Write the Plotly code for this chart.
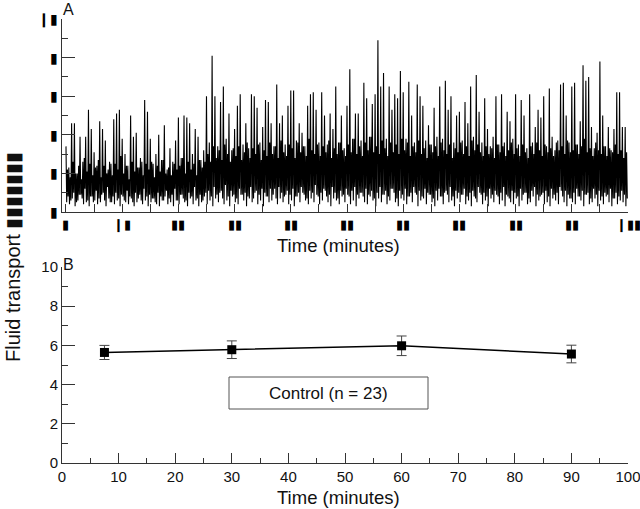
import numpy as np
import plotly.graph_objects as go

# ---------------- Panel A: continuous fluid transport recording ----------------
# each 0.5-min slot holds four read samples: spike top, trough, band top, trough
samples_per_slot = 4
slot_minutes = 0.5

trace_highs = [
    3.4, 2.3, 4.6, 4.6, 2.0, 3.9, 2.6, 3.9, 5.3, 4.3,
    3.1, 2.4, 4.7, 4.3, 3.7, 2.2, 2.5, 4.8, 5.1, 5.3,
    3.8, 3.0, 2.4, 5.0, 3.9, 4.1, 2.3, 2.6, 5.8, 5.2,
    3.8, 2.5, 3.0, 4.0, 2.7, 4.5, 2.2, 3.3, 2.6, 3.7,
    4.9, 2.8, 5.0, 4.9, 4.6, 3.0, 4.3, 3.9, 2.7, 3.2,
    6.0, 3.6, 8.1, 6.0, 3.4, 5.7, 6.5, 3.8, 5.1, 3.2,
    4.3, 5.5, 6.1, 3.5, 4.6, 3.3, 6.1, 6.0, 5.4, 3.6,
    4.4, 5.8, 5.7, 4.6, 3.4, 6.6, 4.6, 5.0, 3.5, 5.5,
    6.3, 6.3, 3.7, 4.6, 4.1, 3.4, 5.5, 6.1, 6.2, 5.3,
    3.6, 6.2, 5.0, 3.5, 5.1, 4.3, 6.5, 3.6, 5.0, 3.3,
    5.5, 7.4, 3.8, 5.1, 5.1, 3.7, 6.7, 5.9, 3.9, 5.6,
    6.1, 8.9, 6.5, 7.2, 3.8, 6.5, 5.3, 6.1, 5.9, 7.3,
    6.2, 3.8, 6.75, 5.0, 3.6, 6.6, 6.0, 5.5, 3.7, 4.5,
    3.5, 5.4, 3.9, 6.5, 3.8, 6.8, 5.3, 6.0, 3.6, 5.0,
    5.2, 3.7, 5.7, 4.6, 6.5, 3.9, 7.1, 5.2, 3.6, 5.9,
    4.3, 3.4, 3.9, 6.0, 3.5, 6.1, 3.6, 5.2, 4.7, 3.8,
    6.1, 3.5, 5.8, 5.0, 3.3, 6.1, 3.6, 4.4, 5.3, 4.9,
    6.0, 3.4, 6.4, 3.9, 3.2, 3.7, 6.6, 6.7, 5.0, 3.6,
    6.5, 6.7, 3.5, 4.7, 7.6, 6.8, 7.0, 4.4, 3.3, 4.1,
    7.8, 5.0, 3.4, 4.4, 3.2, 4.3, 6.2, 6.2, 4.4, 4.4,
]

trace_lows = [
    0.5, 0.4, 0.7, 0.3, 0.6, 0.9, 0.4, 0.5, 0.3, 0.8,
    0.6, 0.4, 0.5, 1.0, 0.3, 0.7, 0.5, 0.4, 0.6, 0.3,
    0.8, 0.5, 0.4, 0.7, 0.3, 0.5, 0.9, 0.4, 0.6, 0.3,
    0.5, 0.7, 0.4, 0.3, 0.6, 0.8, 0.4, 0.5, 0.3, 0.6,
    0.4, 0.9, 0.5, 0.3, 0.7, 0.4, 0.6, 0.3, 0.5, 0.8,
    0.4, 0.6, 0.3, 0.7, 0.5, 1.1, 0.4, 0.6, 0.3, 0.8,
    0.5, 0.4, 0.9, 0.6, 0.3, 0.7, 0.5, 1.0, 0.4, 0.6,
    0.3, 0.8, 0.5, 0.6, 1.2, 0.4, 0.7, 0.5, 0.9, 0.4,
    0.6, 0.3, 0.8, 0.5, 1.0, 0.6, 0.4, 0.7, 0.5, 0.9,
    0.4, 0.6, 1.1, 0.5, 0.3, 0.7, 0.6, 0.4, 0.8, 0.5,
    0.9, 0.4, 0.6, 0.3, 0.7, 1.0, 0.5, 0.4, 0.8, 0.6,
    0.3, 0.7, 0.5, 0.9, 0.4, 0.6, 1.2, 0.5, 0.3, 0.7,
    0.6, 0.4, 0.8, 0.5, 1.0, 0.3, 0.6, 0.7, 0.4, 0.9,
    0.5, 0.3, 0.6, 0.8, 0.4, 1.1, 0.5, 0.6, 0.3, 0.7,
    0.5, 0.9, 0.4, 0.6, 0.3, 0.8, 0.5, 1.0, 0.4, 0.6,
    0.3, 0.7, 0.5, 0.9, 0.4, 0.6, 0.3, 0.8, 0.5, 0.4,
    0.7, 0.3, 0.6, 1.0, 0.4, 0.5, 0.8, 0.3, 0.6, 0.9,
    0.4, 0.5, 0.3, 0.7, 0.6, 0.4, 1.1, 0.5, 0.3, 0.7,
    0.5, 0.4, 0.8, 0.6, 0.3, 0.9, 0.4, 0.5, 0.7, 0.3,
    0.6, 0.4, 0.8, 0.5, 0.3, 0.7, 0.4, 0.6, 0.5, 0.3,
]

trace_band = [
    2.2, 1.8, 2.6, 2.0, 2.4, 1.7, 2.8, 2.1, 2.5, 1.9,
    2.3, 2.7, 1.8, 2.4, 2.0, 2.6, 1.9, 2.5, 2.2, 2.9,
    2.0, 2.4, 1.7, 2.6, 2.1, 2.3, 2.8, 1.9, 2.5, 2.2,
    2.6, 1.8, 2.4, 2.1, 2.7, 2.0, 2.3, 1.9, 2.5, 2.2,
    2.4, 2.8, 2.0, 2.6, 2.2, 2.5, 1.9, 2.7, 2.3, 2.6,
    3.0, 2.6, 3.4, 2.8, 3.2, 2.7, 3.5, 3.0, 2.6, 3.3,
    2.9, 3.4, 2.7, 3.1, 3.6, 2.8, 3.3, 3.0, 3.5, 2.7,
    3.2, 2.9, 3.6, 3.0, 3.4, 2.8, 3.7, 3.1, 2.9, 3.5,
    3.3, 2.8, 3.6, 3.1, 3.4, 2.9, 3.8, 3.2, 3.0, 3.5,
    2.9, 3.4, 3.1, 3.7, 2.8, 3.3, 3.0, 3.6, 3.2, 2.9,
    3.5, 3.1, 3.8, 3.0, 3.4, 2.9, 3.6, 3.2, 3.9, 3.1,
    3.4, 3.0, 3.7, 3.3, 2.9, 3.6, 3.1, 3.5, 3.0, 3.8,
    3.2, 3.6, 2.9, 3.4, 3.1, 3.7, 3.0, 3.3, 2.8, 3.5,
    3.1, 3.4, 2.9, 3.6, 3.2, 3.0, 3.5, 2.8, 3.3, 3.1,
    3.6, 3.0, 3.4, 2.9, 3.7, 3.2, 3.5, 3.1, 2.9, 3.4,
    3.0, 3.3, 2.8, 3.5, 3.1, 3.4, 2.9, 3.2, 3.6, 3.0,
    3.3, 2.9, 3.5, 3.1, 2.8, 3.4, 3.0, 3.6, 3.2, 2.9,
    3.5, 3.1, 3.3, 2.9, 3.6, 3.2, 3.4, 3.0, 3.7, 3.1,
    3.2, 3.5, 3.0, 3.4, 3.8, 3.1, 3.3, 2.9, 3.6, 3.2,
    3.0, 3.4, 2.9, 3.3, 3.1, 3.5, 3.0, 3.2, 2.8, 3.1,
]

trace_lows_b = [
    0.8, 0.6, 1.0, 0.5, 0.9, 0.7, 1.2, 0.6, 0.8, 0.5,
    1.1, 0.7, 0.9, 0.6, 1.3, 0.5, 0.8, 1.0, 0.7, 0.9,
    0.6, 1.1, 0.8, 0.5, 1.0, 0.7, 0.6, 1.2, 0.8, 0.9,
    0.7, 0.5, 1.0, 0.8, 0.6, 1.1, 0.7, 0.9, 1.2, 0.6,
    0.9, 0.7, 0.6, 1.0, 0.8, 1.3, 0.7, 0.9, 0.6, 1.0,
    1.1, 0.8, 1.3, 0.9, 1.0, 0.7, 1.4, 0.8, 1.1, 0.9,
    0.7, 1.2, 0.9, 1.0, 0.8, 1.3, 0.7, 1.1, 0.9, 1.2,
    1.0, 0.8, 1.2, 0.9, 0.7, 1.3, 1.0, 0.8, 1.1, 0.9,
    1.2, 0.8, 1.0, 1.3, 0.9, 0.7, 1.1, 1.0, 1.4, 0.8,
    1.0, 1.2, 0.8, 0.9, 1.3, 1.0, 0.7, 1.1, 0.9, 1.2,
    0.8, 1.1, 1.3, 0.9, 1.0, 0.8, 1.2, 0.9, 1.1, 0.7,
    1.0, 1.3, 0.9, 1.1, 0.8, 1.2, 1.0, 0.7, 1.1, 0.9,
    1.2, 0.8, 1.0, 1.3, 0.9, 1.1, 0.8, 1.2, 1.0, 0.9,
    0.7, 1.1, 1.2, 0.8, 1.0, 0.9, 1.3, 0.8, 1.1, 1.0,
    0.9, 1.2, 0.8, 1.0, 1.1, 0.7, 1.3, 0.9, 1.0, 0.8,
    1.2, 0.9, 1.1, 0.8, 1.0, 1.3, 0.9, 0.7, 1.1, 1.0,
    0.8, 1.2, 0.9, 1.0, 0.7, 1.1, 1.3, 0.9, 0.8, 1.0,
    1.1, 0.8, 1.2, 0.9, 1.0, 1.3, 0.8, 1.1, 0.9, 0.7,
    1.0, 1.2, 0.8, 1.1, 0.9, 1.0, 0.7, 1.2, 0.9, 1.1,
    0.8, 1.0, 0.9, 1.2, 0.7, 1.0, 0.8, 1.1, 0.9, 0.7,
]

# ---------------- Panel B: mean values ----------------
time_points = [7.5, 30, 60, 90]
transport_mean = [5.64, 5.78, 5.98, 5.56]
transport_sem = [0.36, 0.45, 0.50, 0.45]
legend_label = "Control (n = 23)"

# ---------------- Tick labels ----------------
y_tick_vals = [0, 2, 4, 6, 8, 10]
y_tick_text_b = ["0", "2", "4", "6", "8", "10"]
y_tick_text_a = ["▮", "▮", "▮", "▮", "▮", "❙▮"]
x_tick_vals = [0, 10, 20, 30, 40, 50, 60, 70, 80, 90, 100]
x_tick_text_b = ["0", "10", "20", "30", "40", "50", "60", "70", "80", "90", "100"]
x_tick_text_a = ["▮", "❙▮", "▮▮", "▮▮", "▮▮", "▮▮", "▮▮", "▮▮", "▮▮", "▮▮", "❙▮▮"]
y_title = "Fluid transport ▮▮▮▮▮▮▮"

# interleave the recording samples
y_trace = np.column_stack([trace_highs, trace_lows, trace_band, trace_lows_b]).ravel()
t_trace = np.arange(len(y_trace)) * (slot_minutes / samples_per_slot)

W, H = 640, 509
def px(x):
    return x / W
def py(y):
    return 1 - y / H

FONT = "Liberation Sans, Arial, Helvetica, sans-serif"
AX = "#333333"

fig = go.Figure()
fig.add_trace(go.Scatter(
    x=t_trace, y=y_trace, mode="lines",
    line=dict(color="black", width=1.1, simplify=False),
    xaxis="x", yaxis="y", showlegend=False, hoverinfo="skip",
))
fig.add_trace(go.Scatter(
    x=time_points, y=transport_mean, mode="lines+markers",
    line=dict(color="black", width=1.5),
    marker=dict(symbol="square", size=9, color="black"),
    error_y=dict(type="data", array=transport_sem, color="#444444", thickness=1, width=5),
    xaxis="x2", yaxis="y2", showlegend=False,
))

common = dict(showline=True, linecolor=AX, linewidth=1, showgrid=False, zeroline=False,
              ticks="inside", tickcolor=AX, mirror=False, automargin=False,
              ticklabeloverflow="allow")

fig.update_layout(
    template="none",
    width=W, height=H, autosize=False,
    margin=dict(l=0, r=0, t=0, b=0, pad=0),
    paper_bgcolor="white", plot_bgcolor="white",
    font=dict(family=FONT, color="#111111", size=15),
    xaxis=dict(domain=[px(62), px(628)], anchor="y", range=[-0.71, 100],
               tickvals=x_tick_vals, ticktext=x_tick_text_a, ticklen=8, tickwidth=1,
               minor=dict(dtick=5, tick0=0, ticks="inside", ticklen=8, tickcolor=AX),
               tickfont=dict(size=13, color="black"), **common),
    yaxis=dict(domain=[py(212), py(19)], anchor="x", range=[0, 10],
               tickvals=y_tick_vals, ticktext=y_tick_text_a, ticklen=13,
               minor=dict(dtick=1, tick0=0, ticks="inside", ticklen=6, tickcolor=AX),
               tickfont=dict(size=14, color="black"), **common),
    xaxis2=dict(domain=[px(62), px(628)], anchor="y2", range=[0, 100],
                tickvals=x_tick_vals, ticktext=x_tick_text_b, ticklen=10,
                minor=dict(dtick=5, tick0=0, ticks="inside", ticklen=5, tickcolor=AX),
                tickfont=dict(size=15), **common),
    yaxis2=dict(domain=[py(463), py(267)], anchor="x2", range=[0, 10],
                tickvals=y_tick_vals, ticktext=y_tick_text_b, ticklen=13,
                minor=dict(dtick=1, tick0=0, ticks="inside", ticklen=6, tickcolor=AX),
                tickfont=dict(size=15), **common),
)

fig.add_shape(type="rect", xref="paper", yref="paper",
              x0=px(229), x1=px(428), y0=py(409), y1=py(377),
              line=dict(color="#555555", width=1), fillcolor="rgba(0,0,0,0)")

annos = [
    dict(text=legend_label, x=px(328.5), y=py(393), xanchor="center", yanchor="middle",
         font=dict(size=17)),
    dict(text="Time (minutes)", x=px(338), y=py(245), xanchor="center", yanchor="middle",
         font=dict(size=18.5)),
    dict(text="Time (minutes)", x=px(338), y=py(497), xanchor="center", yanchor="middle",
         font=dict(size=18.5)),
    dict(text="A", x=px(61), y=py(-1), xanchor="left", yanchor="top", font=dict(size=16)),
    dict(text="B", x=px(61), y=py(254), xanchor="left", yanchor="top", font=dict(size=16)),
    dict(text=y_title, x=px(13), y=py(257), xanchor="center",
         yanchor="middle", textangle=-90, font=dict(size=20)),
]
for a in annos:
    fig.add_annotation(xref="paper", yref="paper", showarrow=False, **a)

fig.write_html(
    "out.html",
    config={"displayModeBar": False},
    post_script="document.body.style.margin='0';document.body.style.padding='0';",
)
